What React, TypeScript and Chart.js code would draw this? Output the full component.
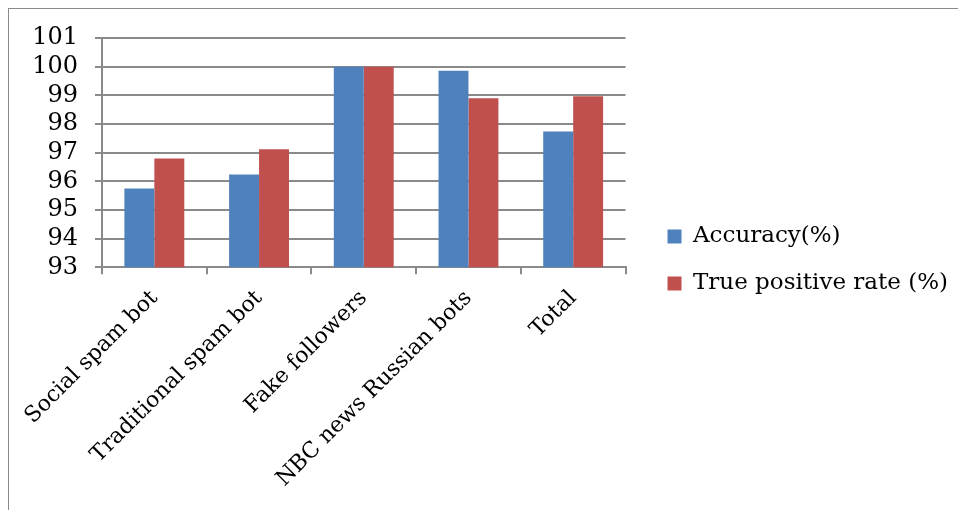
import { useEffect, useRef } from 'react';
import { Chart, registerables } from 'chart.js';

Chart.register(...registerables);

const categories = ['Social spam bot', 'Traditional spam bot', 'Fake followers', 'NBC news Russian bots', 'Total'];
const accuracy = [95.75, 96.24, 100, 99.86, 97.74];
const truePositiveRate = [96.8, 97.12, 100, 98.9, 98.97];
const yMin = 93;
const yMax = 101;

const FONT = "'DejaVu Serif', serif";
const GRID = '#8a8a8a';

export default function App() {
  const ref = useRef<HTMLCanvasElement>(null);

  useEffect(() => {
    const chart = new Chart(ref.current!, {
      type: 'bar',
      data: {
        labels: categories,
        datasets: [
          {
            label: 'Accuracy(%)',
            data: accuracy,
            backgroundColor: '#4f81bd',
            borderWidth: 0,
            categoryPercentage: 0.572,
            barPercentage: 1,
          },
          {
            label: 'True positive rate (%)',
            data: truePositiveRate,
            backgroundColor: '#c0504d',
            borderWidth: 0,
            categoryPercentage: 0.572,
            barPercentage: 1,
          },
        ],
      },
      options: {
        animation: false,
        responsive: false,
        devicePixelRatio: 1,
        layout: { padding: { top: 29, bottom: 0, left: 0, right: 0 } },
        plugins: {
          tooltip: { enabled: false },
          legend: {
            position: 'right',
            align: 'start',
            maxWidth: 400,
            title: {
              display: true,
              text: ' ',
              font: { size: 10 },
              padding: { top: 151, bottom: 0 },
            },
            labels: {
              font: { family: FONT, size: 23 },
              color: '#000',
              boxWidth: 14,
              boxHeight: 14,
              padding: 24,
            },
          },
        },
        scales: {
          x: {
            grid: {
              drawOnChartArea: false,
              color: GRID,
              lineWidth: 2,
              tickLength: 7,
              offset: true,
            },
            border: { color: GRID, width: 2 },
            ticks: {
              autoSkip: false,
              maxRotation: 45,
              minRotation: 45,
              padding: 11,
              color: '#000',
              font: { family: FONT, size: 22 },
            },
            afterFit: (s: any) => {
              s.height = 242.7;
              s.paddingLeft = 0;
              s.paddingRight = 0;
            },
          },
          y: {
            min: yMin,
            max: yMax,
            grid: { color: GRID, lineWidth: 2, tickLength: 7 },
            border: { color: GRID, width: 2 },
            ticks: {
              autoSkip: false,
              stepSize: 1,
              padding: 17,
              color: '#000',
              font: { family: FONT, size: 24 },
            },
            afterFit: (s: any) => {
              s.width = 93;
              s.paddingTop = 0;
              s.paddingBottom = 0;
            },
          },
          spacer: {
            type: 'linear',
            position: 'right',
            display: true,
            grid: { display: false, drawTicks: false },
            border: { display: false },
            ticks: { display: false },
            afterFit: (s: any) => {
              s.width = 18;
            },
          },
        },
      },
    } as any);
    return () => chart.destroy();
  }, []);

  return (
    <div
      style={{
        position: 'fixed',
        left: 8,
        top: 8,
        width: 950,
        height: 502,
        borderLeft: '1px solid #8a8a8a',
        borderTop: '1px solid #8a8a8a',
        boxSizing: 'border-box',
        background: '#fff',
      }}
    >
      <canvas ref={ref} width={949} height={501} style={{ display: 'block', width: 949, height: 501 }} />
    </div>
  );
}
